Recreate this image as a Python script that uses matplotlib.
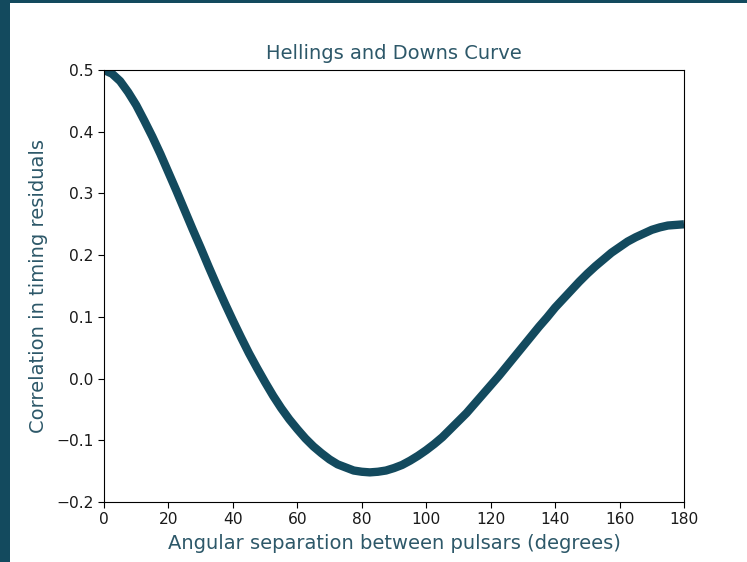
import matplotlib
matplotlib.use("Agg")
import matplotlib.pyplot as plt
from matplotlib.patches import Rectangle

# Angular separation (degrees) and correlation of timing residuals
angle_deg = [0, 2.5, 5, 7.5, 10, 12.5, 15, 17.5, 20, 22.5, 25, 27.5, 30, 32.5, 35, 37.5,
             40, 42.5, 45, 47.5, 50, 52.5, 55, 57.5, 60, 62.5, 65, 67.5, 70, 72.5, 75,
             77.5, 80, 82.5, 85, 87.5, 90, 92.5, 95, 97.5, 100, 102.5, 105, 107.5, 110,
             112.5, 115, 117.5, 120, 122.5, 125, 127.5, 130, 132.5, 135, 137.5, 140,
             142.5, 145, 147.5, 150, 152.5, 155, 157.5, 160, 162.5, 165, 167.5, 170,
             172.5, 175, 177.5, 180]
correlation = [0.500, 0.494, 0.482, 0.464, 0.443, 0.418, 0.392, 0.364, 0.334, 0.304,
               0.273, 0.242, 0.212, 0.181, 0.151, 0.122, 0.094, 0.067, 0.041, 0.017,
               -0.006, -0.028, -0.048, -0.066, -0.082, -0.097, -0.110, -0.121, -0.131,
               -0.139, -0.144, -0.149, -0.151, -0.152, -0.151, -0.149, -0.145, -0.140,
               -0.133, -0.125, -0.116, -0.106, -0.095, -0.082, -0.069, -0.056, -0.041,
               -0.026, -0.011, 0.004, 0.020, 0.036, 0.052, 0.068, 0.084, 0.099, 0.115,
               0.129, 0.143, 0.157, 0.170, 0.182, 0.193, 0.204, 0.213, 0.222, 0.229,
               0.235, 0.241, 0.245, 0.248, 0.249, 0.250]

x_ticks = [0, 20, 40, 60, 80, 100, 120, 140, 160, 180]
y_ticks = [-0.2, -0.1, 0.0, 0.1, 0.2, 0.3, 0.4, 0.5]

dark = "#134a5e"
text_col = "#2d5869"

fig = plt.figure(figsize=(7.47, 5.62), dpi=100)
fig.patch.set_facecolor("white")
# page accents: left bar and thin top strip
fig.patches.append(Rectangle((0, 0), 10 / 747, 1, transform=fig.transFigure,
                             facecolor=dark, edgecolor="none", zorder=0))
fig.patches.append(Rectangle((0, 1 - 3 / 562), 1, 3 / 562, transform=fig.transFigure,
                             facecolor=dark, edgecolor="none", zorder=0))

ax = fig.add_axes([104 / 747, 1 - 502 / 562, (684 - 104) / 747, (502 - 70) / 562])
ax.plot(angle_deg, correlation, color=dark, linewidth=6, solid_capstyle="butt",
        solid_joinstyle="round")
ax.set_xlim(0, 180)
ax.set_ylim(-0.2, 0.5)
ax.set_xticks(x_ticks)
ax.set_yticks(y_ticks)
ax.tick_params(labelsize=11.2, length=4, labelcolor="#1a1a1a")
ax.set_title("Hellings and Downs Curve", color=text_col, fontsize=14, pad=8)
ax.set_xlabel("Angular separation between pulsars (degrees)", color=text_col,
              fontsize=14, labelpad=5)
ax.set_ylabel("Correlation in timing residuals", color=text_col, fontsize=14,
              labelpad=6)

fig.savefig("out.png", dpi=100)
